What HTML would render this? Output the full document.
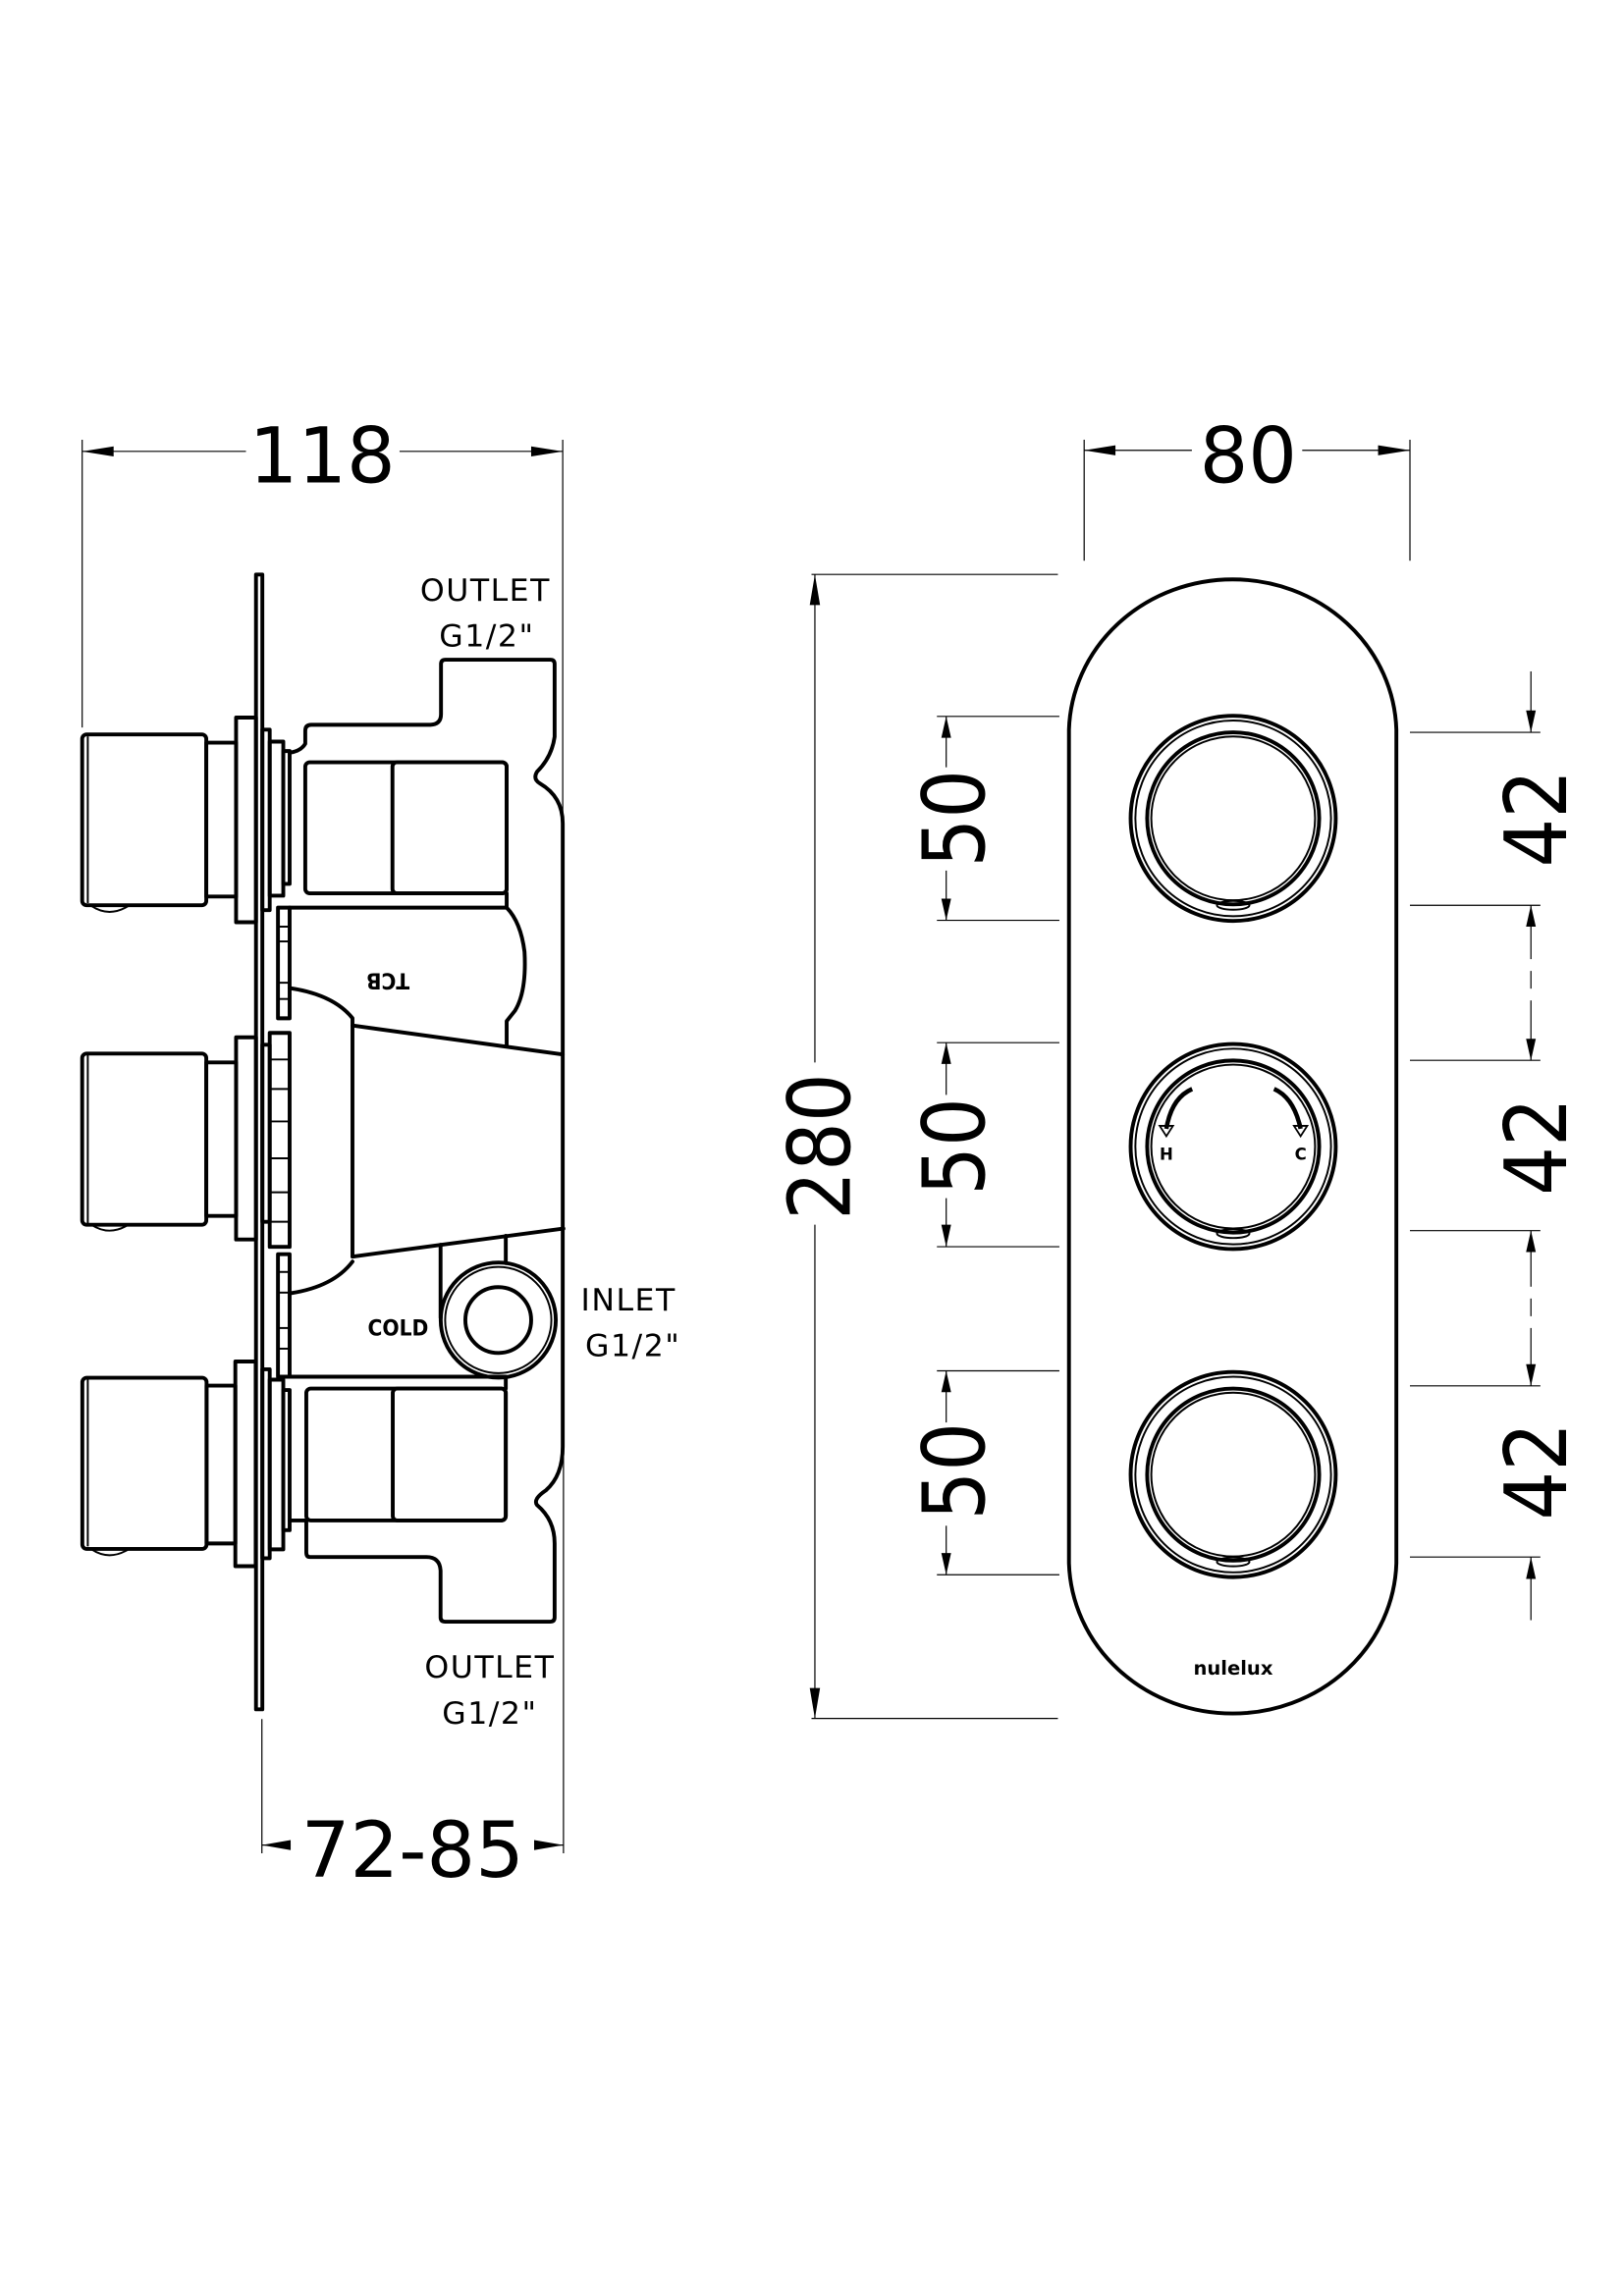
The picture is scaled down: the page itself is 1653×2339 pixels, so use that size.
<!DOCTYPE html>
<html><head><meta charset="utf-8"><style>
html,body{margin:0;padding:0;background:#fff}
svg{display:block}
.t{fill:none;stroke:#000;stroke-width:2.6;stroke-linejoin:round;stroke-linecap:round}
.m{fill:none;stroke:#000;stroke-width:1.3}
.d{fill:none;stroke:#000;stroke-width:0.8}
.dim{font-family:"DejaVu Sans",sans-serif;font-size:52px;fill:#000}
.cd{font-family:"DejaVu Sans Condensed","DejaVu Sans",sans-serif;font-stretch:condensed;font-size:58px;fill:#000}
.lb{font-family:"DejaVu Sans",sans-serif;font-size:21px;fill:#000;letter-spacing:1px}
.sm{font-family:"DejaVu Sans Condensed","DejaVu Sans",sans-serif;font-stretch:condensed;font-size:15px;font-weight:bold;fill:#000}
</style></head><body>
<svg width="1653" height="2339" viewBox="0 0 1100 1556" preserveAspectRatio="none" xmlns="http://www.w3.org/2000/svg">
<rect width="1100" height="1556" fill="#fff"/>

<!-- ===== LEFT VIEW ===== -->
<line class="d" x1="55.7" y1="298" x2="55.7" y2="493"/>
<line class="d" x1="381.4" y1="298" x2="381.4" y2="556"/>
<line class="d" x1="55.7" y1="305.9" x2="166.7" y2="305.9"/>
<line class="d" x1="270.8" y1="305.9" x2="381.4" y2="305.9"/>
<polygon points="55.7,305.9 77,302.5 77,309.3"/>
<polygon points="381.4,305.9 360,302.5 360,309.3"/>
<text class="dim" x="218.4" y="327" text-anchor="middle">118</text>

<rect class="t" x="173.5" y="389.4" width="4.3" height="769" />

<g>
<rect class="t" x="55.7" y="497.7" width="84.1" height="115.8" rx="3"/>
<line class="m" x1="59.5" y1="499" x2="59.5" y2="612"/>
<path class="m" d="M62,614 Q74,622 87,614"/>
<rect class="t" x="139.8" y="503.3" width="20.2" height="104.3"/>
<rect class="t" x="160" y="486.3" width="13.5" height="138.7"/>
<rect class="t" x="177.8" y="494.5" width="5" height="122.3"/>
<rect class="t" x="182.8" y="502.6" width="9.2" height="104.4"/>
<rect class="t" x="192" y="509" width="4.3" height="90"/>
</g>
<g>
<rect class="t" x="55.7" y="714" width="84.1" height="116" rx="3"/>
<line class="m" x1="59.5" y1="715" x2="59.5" y2="829"/>
<path class="m" d="M62,830 Q74,838 87,830"/>
<rect class="t" x="139.8" y="720" width="20.2" height="104"/>
<rect class="t" x="160" y="703" width="13.5" height="137"/>
<rect class="t" x="177.8" y="708" width="5" height="120"/>
<rect class="t" x="182.8" y="700" width="13.5" height="145"/>
<line class="m" x1="182.8" y1="718" x2="196.3" y2="718"/>
<line class="m" x1="182.8" y1="738" x2="196.3" y2="738"/>
<line class="m" x1="182.8" y1="760" x2="196.3" y2="760"/>
<line class="m" x1="182.8" y1="785" x2="196.3" y2="785"/>
<line class="m" x1="182.8" y1="808" x2="196.3" y2="808"/>
<line class="m" x1="182.8" y1="828" x2="196.3" y2="828"/>
</g>
<g>
<rect class="t" x="55.8" y="933.7" width="84.2" height="116" rx="3"/>
<line class="m" x1="59.5" y1="935" x2="59.5" y2="1048"/>
<path class="m" d="M62,1050 Q74,1058 87,1050"/>
<rect class="t" x="140" y="939" width="19.5" height="107"/>
<rect class="t" x="159.5" y="922.7" width="13.8" height="138.7"/>
<rect class="t" x="177.8" y="928" width="5" height="128"/>
<rect class="t" x="182.8" y="935" width="9.2" height="115"/>
<rect class="t" x="192" y="942" width="4.3" height="95"/>
</g>

<rect class="t" x="188.4" y="615.1" width="7.9" height="75"/>
<line class="m" x1="188.4" y1="628" x2="196.3" y2="628"/>
<line class="m" x1="188.4" y1="638" x2="196.3" y2="638"/>
<line class="m" x1="188.4" y1="666" x2="196.3" y2="666"/>
<line class="m" x1="188.4" y1="677" x2="196.3" y2="677"/>
<rect class="t" x="188.4" y="850" width="7.9" height="83"/>
<line class="m" x1="188.4" y1="862" x2="196.3" y2="862"/>
<line class="m" x1="188.4" y1="876" x2="196.3" y2="876"/>
<line class="m" x1="188.4" y1="900" x2="196.3" y2="900"/>
<line class="m" x1="188.4" y1="914" x2="196.3" y2="914"/>

<path class="t" d="M196.3,510.1 Q204,509 206.9,504 L206.9,495 Q207,491.2 211,491.2 L291.7,491.2 Q298.9,491 298.9,484 L298.9,450 Q298.9,447.1 302,447.1 L373,447.1 Q375.9,447.1 375.9,450 L375.9,499.3 Q374,513 364,523 Q361,528 366,531 Q381.4,540 381.4,558 L381.4,980 Q381.5,1000 370,1010 Q361,1016 364,1020 Q375.9,1030 375.9,1046 L375.9,1096 Q375.9,1099 373,1099 L301.6,1099 Q298.6,1099 298.6,1096 L298.6,1064.3 Q298,1055.2 289,1055.2 L210,1055.2 Q207.6,1055.2 207.6,1052 L207.6,1030.4"/>
<rect class="t" x="206.9" y="516.6" width="136.5" height="88.8" rx="3"/>
<rect class="t" x="266" y="516.6" width="77.4" height="88.8" rx="3"/>
<line class="t" x1="343.4" y1="605.4" x2="343.4" y2="615.1"/>
<line class="t" x1="196.3" y1="615.1" x2="343.4" y2="615.1"/>
<path class="t" d="M343.4,615.1 Q353,625 355.5,645 Q357,672 349,685 L343.4,692 L343.4,709"/>
<text class="sm" x="262.9" y="649" text-anchor="middle" transform="rotate(180 262.9 654.3)">TCB</text>
<path class="t" d="M196.3,669.6 Q226,674 238.9,690 L238.9,851.6"/>
<line class="t" x1="238.9" y1="695" x2="381.4" y2="714.6"/>
<line class="t" x1="238.9" y1="851.6" x2="381.9" y2="832.6"/>
<path class="t" d="M238.9,855 Q226,872 197.1,876.4"/>
<line class="t" x1="298.6" y1="843.6" x2="298.6" y2="893"/>
<line class="t" x1="342.8" y1="837.5" x2="342.8" y2="856"/>
<circle class="t" cx="337.7" cy="894.6" r="39"/>
<circle class="m" cx="337.7" cy="894.6" r="36"/>
<circle class="t" cx="337.7" cy="894.6" r="22.3"/>
<line class="t" x1="342.8" y1="933.6" x2="342.8" y2="941"/>
<line class="t" x1="196.3" y1="933" x2="342.8" y2="933"/>
<text class="sm" x="269.8" y="905" text-anchor="middle" font-size="16">COLD</text>
<rect class="t" x="207.6" y="941" width="135.2" height="89.4" rx="3"/>
<rect class="t" x="266.2" y="941" width="76.6" height="89.4" rx="3"/>
<line class="t" x1="196.3" y1="1030.4" x2="207.6" y2="1030.4"/>

<text class="lb" x="329" y="407" text-anchor="middle">OUTLET</text>
<text class="lb" x="330" y="438" text-anchor="middle">G1/2"</text>
<text class="lb" x="426" y="888" text-anchor="middle">INLET</text>
<text class="lb" x="429" y="919" text-anchor="middle">G1/2"</text>
<text class="lb" x="332" y="1137" text-anchor="middle">OUTLET</text>
<text class="lb" x="332" y="1168" text-anchor="middle">G1/2"</text>

<line class="d" x1="177.5" y1="1165" x2="177.5" y2="1256"/>
<line class="d" x1="381.9" y1="556" x2="381.9" y2="1256"/>
<line class="d" x1="177.5" y1="1250.4" x2="197" y2="1250.4"/>
<line class="d" x1="362" y1="1250.4" x2="381.9" y2="1250.4"/>
<polygon points="177.5,1250.4 197,1247 197,1253.8"/>
<polygon points="381.9,1250.4 362,1247 362,1253.8"/>
<text class="dim" x="279.7" y="1272" text-anchor="middle">72-85</text>

<!-- ===== RIGHT VIEW ===== -->
<line class="d" x1="734.8" y1="298" x2="734.8" y2="380"/>
<line class="d" x1="955.6" y1="298" x2="955.6" y2="380"/>
<line class="d" x1="734.8" y1="305.2" x2="807.8" y2="305.2"/>
<line class="d" x1="882.6" y1="305.2" x2="955.6" y2="305.2"/>
<polygon points="734.8,305.2 756,301.8 756,308.6"/>
<polygon points="955.6,305.2 934,301.8 934,308.6"/>
<text class="dim" x="846" y="327" text-anchor="middle">80</text>

<g transform="translate(-3,0)">
<line class="d" x1="553" y1="389.3" x2="720" y2="389.3"/>
<line class="d" x1="553" y1="1164.6" x2="720" y2="1164.6"/>
<line class="d" x1="555.3" y1="389.3" x2="555.3" y2="720"/>
<line class="d" x1="555.3" y1="830" x2="555.3" y2="1164.6"/>
<polygon points="555.3,389.3 551.8,410 558.8,410"/>
<polygon points="555.3,1164.6 551.8,1144 558.8,1144"/>
<text class="cd" x="558" y="777" text-anchor="middle" transform="rotate(-90 558 777)" dy="21">280</text>

<path class="t" d="M727.5,494.5 L727.5,1059.4 A111,105 0 0 0 949.4,1059.4 L949.4,494.5 A111,105 0 0 0 727.5,494.5 Z"/>

<g>
<circle class="t" cx="838.8" cy="554.6" r="69.5"/>
<circle class="m" cx="838.8" cy="554.6" r="66.3"/>
<circle class="t" cx="838.8" cy="554.6" r="58.3"/>
<circle class="m" cx="838.8" cy="554.6" r="55.5"/>
<ellipse class="m" cx="838.8" cy="613.5" rx="11" ry="3"/>
</g>
<g>
<circle class="t" cx="838.8" cy="777" r="69.5"/>
<circle class="m" cx="838.8" cy="777" r="66.3"/>
<circle class="t" cx="838.8" cy="777" r="58.3"/>
<circle class="m" cx="838.8" cy="777" r="55.5"/>
<ellipse class="m" cx="838.8" cy="836" rx="11" ry="3"/>
<path d="M811,738 Q797,744 793.5,765" fill="none" stroke="#000" stroke-width="3"/>
<path d="M866.5,738 Q880,744 884.5,765" fill="none" stroke="#000" stroke-width="3"/>
<polygon points="789,763 798,763 793.5,770" fill="none" stroke="#000" stroke-width="1.2"/>
<polygon points="880,763 889,763 884.5,770" fill="none" stroke="#000" stroke-width="1.2"/>
<text x="793.5" y="786" text-anchor="middle" font-family="DejaVu Sans,sans-serif" font-weight="bold" font-size="11">H</text>
<text x="884.5" y="786" text-anchor="middle" font-family="DejaVu Sans,sans-serif" font-weight="bold" font-size="11">C</text>
</g>
<g>
<circle class="t" cx="838.8" cy="999.3" r="69.5"/>
<circle class="m" cx="838.8" cy="999.3" r="66.3"/>
<circle class="t" cx="838.8" cy="999.3" r="58.3"/>
<circle class="m" cx="838.8" cy="999.3" r="55.5"/>
<ellipse class="m" cx="838.8" cy="1058.5" rx="11" ry="3"/>
</g>
<text x="838.8" y="1135" text-anchor="middle" font-family="DejaVu Sans,sans-serif" font-weight="bold" font-size="13">nulelux</text>

<g>
<line class="d" x1="638" y1="485.5" x2="721" y2="485.5"/>
<line class="d" x1="638" y1="623.7" x2="721" y2="623.7"/>
<line class="d" x1="638" y1="706.6" x2="721" y2="706.6"/>
<line class="d" x1="638" y1="844.9" x2="721" y2="844.9"/>
<line class="d" x1="638" y1="929" x2="721" y2="929"/>
<line class="d" x1="638" y1="1067.2" x2="721" y2="1067.2"/>
<line class="d" x1="644.3" y1="485.5" x2="644.3" y2="520"/><line class="d" x1="644.3" y1="590" x2="644.3" y2="623.7"/>
<line class="d" x1="644.3" y1="706.6" x2="644.3" y2="742"/><line class="d" x1="644.3" y1="812" x2="644.3" y2="844.9"/>
<line class="d" x1="644.3" y1="929" x2="644.3" y2="964"/><line class="d" x1="644.3" y1="1034" x2="644.3" y2="1067.2"/>
<polygon points="644.3,485.5 641,500 647.6,500"/><polygon points="644.3,623.7 641,609 647.6,609"/>
<polygon points="644.3,706.6 641,721 647.6,721"/><polygon points="644.3,844.9 641,830 647.6,830"/>
<polygon points="644.3,929 641,943.5 647.6,943.5"/><polygon points="644.3,1067.2 641,1052.5 647.6,1052.5"/>
<text class="cd" x="649" y="554.6" dy="21" text-anchor="middle" transform="rotate(-90 649 554.6)">50</text>
<text class="cd" x="649" y="777" dy="21" text-anchor="middle" transform="rotate(-90 649 777)">50</text>
<text class="cd" x="649" y="997" dy="21" text-anchor="middle" transform="rotate(-90 649 997)">50</text>
</g>

<g>
<line class="d" x1="958.6" y1="496.3" x2="1047" y2="496.3"/>
<line class="d" x1="958.6" y1="613.5" x2="1047" y2="613.5"/>
<line class="d" x1="958.6" y1="718.6" x2="1047" y2="718.6"/>
<line class="d" x1="958.6" y1="834" x2="1047" y2="834"/>
<line class="d" x1="958.6" y1="939.2" x2="1047" y2="939.2"/>
<line class="d" x1="958.6" y1="1055.2" x2="1047" y2="1055.2"/>
<line class="d" x1="1040.6" y1="455" x2="1040.6" y2="496"/>
<polygon points="1040.6,496.3 1037.3,481.5 1043.9,481.5"/>
<line class="d" x1="1040.6" y1="613.5" x2="1040.6" y2="650"/>
<line class="d" x1="1040.6" y1="658" x2="1040.6" y2="670" />
<line class="d" x1="1040.6" y1="678" x2="1040.6" y2="718.6"/>
<polygon points="1040.6,613.5 1037.3,628 1043.9,628"/>
<polygon points="1040.6,718.6 1037.3,704 1043.9,704"/>
<line class="d" x1="1040.6" y1="834" x2="1040.6" y2="872"/>
<line class="d" x1="1040.6" y1="880" x2="1040.6" y2="892"/>
<line class="d" x1="1040.6" y1="900" x2="1040.6" y2="939.2"/>
<polygon points="1040.6,834 1037.3,848.5 1043.9,848.5"/>
<polygon points="1040.6,939.2 1037.3,924.5 1043.9,924.5"/>
<line class="d" x1="1040.6" y1="1055.2" x2="1040.6" y2="1098"/>
<polygon points="1040.6,1055.2 1037.3,1070 1043.9,1070"/>
<text class="cd" x="1043.5" y="554.6" dy="21" text-anchor="middle" transform="rotate(-90 1043.5 554.6)">42</text>
<text class="cd" x="1043.5" y="777" dy="21" text-anchor="middle" transform="rotate(-90 1043.5 777)">42</text>
<text class="cd" x="1043.5" y="997" dy="21" text-anchor="middle" transform="rotate(-90 1043.5 997)">42</text>
</g>
</g>
</svg>
</body></html>
